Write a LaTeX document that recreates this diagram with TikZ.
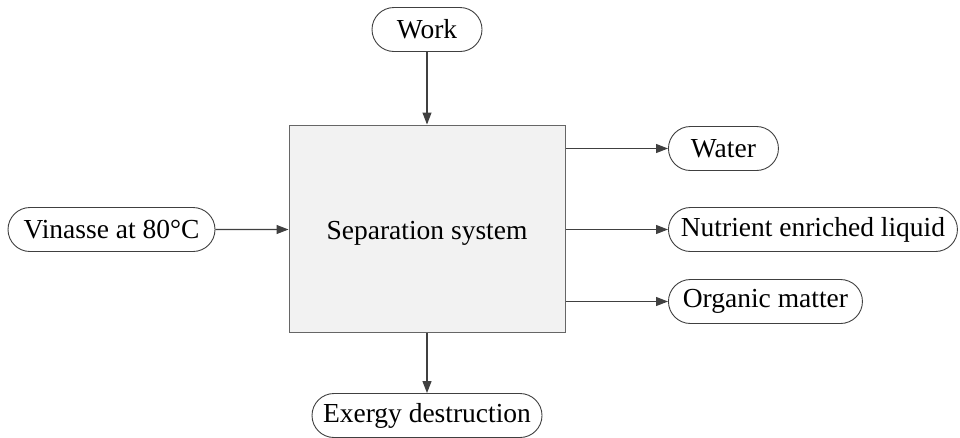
\documentclass[tikz,border=0pt]{standalone}
\usepackage{fontspec}
\setmainfont{Liberation Serif}
\usetikzlibrary{arrows.meta,shapes.misc}
\definecolor{linegray}{RGB}{64,64,64}
\definecolor{boxgray}{RGB}{242,242,242}
\tikzset{
  stream/.style={rounded rectangle, draw=linegray, line width=0.9pt, fill=white,
    minimum height=44pt, inner xsep=4pt, font=\fontsize{27.5}{33}\selectfont},
  flow/.style={-{Triangle[length=12pt,width=9pt]}, draw=linegray, line width=1.1pt}
}
\begin{document}
\begin{tikzpicture}[x=1pt,y=-1pt]
\useasboundingbox (0,0) rectangle (960,437);

\node[draw=linegray!80, line width=1pt, fill=boxgray, minimum width=276pt, minimum height=207pt,
  font=\fontsize{27.5}{33}\selectfont] (box) at (427,228.5) {\raisebox{-5pt}[\height][\depth]{Separation system}};

\node[stream, minimum width=118pt] (work) at (427,29.5) {Work};
\node[stream, minimum width=215pt] (vinasse) at (111.5,229.5) {Vinasse at 80°C};
\node[stream, minimum width=118pt, anchor=west] (water) at (668,148.5) {Water};
\node[stream, minimum width=297pt, anchor=west] (liquid) at (668,229.5) {Nutrient enriched liquid};
\node[stream, minimum width=202pt, anchor=west] (organic) at (668,301.5) {Organic matter};
\node[stream, minimum width=238pt] (exergy) at (427,415.5) {Exergy destruction};

\draw[flow] (work) -- (box);
\draw[flow] (vinasse) -- (box.west |- vinasse);
\draw[flow] (box.east |- water) -- (water);
\draw[flow] (box.east |- liquid) -- (liquid);
\draw[flow] (box.east |- organic) -- (organic);
\draw[flow] (box) -- (exergy);
\end{tikzpicture}
\end{document}
